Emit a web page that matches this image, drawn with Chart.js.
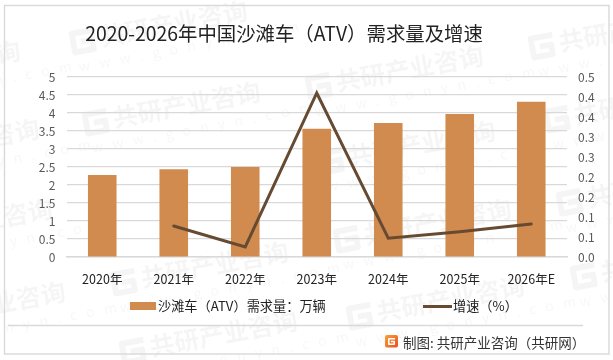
<!DOCTYPE html>
<html><head><meta charset="utf-8">
<script src="https://cdn.jsdelivr.net/npm/chart.js@4"></script>
<style>html,body{margin:0;padding:0;background:#fff}canvas{display:block}</style>
</head><body><canvas id="c" width="613" height="360"></canvas>
<script>
const categories = ['2020年','2021年','2022年','2023年','2024年','2025年','2026年E'];
const demand = [2.28,2.44,2.5,3.56,3.72,3.97,4.31];
const growth = [null,0.0775,0.025,0.41,0.047,0.063,0.0825];
const leftTicks = [0,.5,1,1.5,2,2.5,3,3.5,4,4.5,5];
const rightTicks = [0,.05,.1,.15,.2,.25,.3,.35,.4,.45];
const demandLabel = '沙滩车（ATV）需求量：万辆';
const growthLabel = '增速（%）';
const titleText = '2020-2026年中国沙滩车（ATV）需求量及增速';
const sourceText = '制图: 共研产业咨询（共研网）';
const FONT = '"Noto Sans CJK SC","Noto Sans",sans-serif';
const marks = [[72,52],[85,133],[308,97],[531,57],[-155,92],[-136,170],[320,172],[-123,250],[113,293],[336,250],[349,327],[559,213],[546,130],[573,287],[-110,333],[122,362]];

function logoG(g,x,y,s,lw){ // blocky "G" mark, origin top-left, size s
  g.lineWidth=lw; g.lineJoin='round'; g.beginPath();
  g.moveTo(x+s,y+lw/2); g.lineTo(x+lw/2,y+lw/2); g.lineTo(x+lw/2,y+s-lw/2);
  g.lineTo(x+s-lw/2,y+s-lw/2); g.lineTo(x+s-lw/2,y+s*0.5); g.lineTo(x+s*0.42,y+s*0.5);
  g.stroke();
}
const backdrop = {
  id:'backdrop',
  beforeDraw(ch){
    const g = ch.ctx;
    g.save();
    g.fillStyle = '#fff'; g.fillRect(0,0,613,360);
    g.textAlign='left'; g.textBaseline='alphabetic';
    for (const [x,y] of marks){
      g.save(); g.translate(x,y); g.rotate(-10.5*Math.PI/180);
      g.strokeStyle='rgba(0,0,0,0.04)';
      logoG(g,0,-21,25,6);
      g.fillStyle='rgba(0,0,0,0.04)';
      g.font='bold 25px '+FONT;
      g.fillText('共研产业咨询',30,0);
      g.fillStyle='rgba(0,0,0,0.035)';
      g.font='14px '+FONT;
      g.letterSpacing='9.5px';
      g.fillText('www.gonyn.com',4,21);
      g.letterSpacing='0px';
      g.restore();
    }
    g.strokeStyle='#d9d9d9'; g.lineWidth=1.4;
    g.strokeRect(4.5,5.5,604.5,348.5);
    g.beginPath(); g.moveTo(8,325.5); g.lineTo(583,325.5); g.stroke();
    g.restore();
    ch.titleBlock.right = ch.titleBlock.left + 568;
  },
  afterDraw(ch){
    const g = ch.ctx;
    g.save();
    // source logo and text
    const lg = g.createLinearGradient(385,335,398,347);
    lg.addColorStop(0,'#f9a13a'); lg.addColorStop(1,'#ee4f1e');
    g.fillStyle=lg; g.beginPath(); g.roundRect(385,335,13,12.5,2); g.fill();
    g.strokeStyle='#fff'; logoG(g,388,338,7,1.6);
    g.fillStyle='#333'; g.font='13.5px '+FONT; g.textAlign='left'; g.textBaseline='middle';
    g.fillText(sourceText,403,343);
    // legend, from the datasets
    const [line,bar] = ch.data.datasets;
    g.fillStyle=bar.backgroundColor; g.fillRect(130,302,26,8);
    g.strokeStyle=line.borderColor; g.lineWidth=3; g.beginPath(); g.moveTo(423,306.5); g.lineTo(452,306.5); g.stroke();
    g.fillStyle='#222'; g.font='13.2px '+FONT;
    g.fillText(bar.label,158,306);
    g.fillText(line.label,453,306);
    g.restore();
  }
};

new Chart(document.getElementById('c'),{
  data:{labels:categories,datasets:[
    {type:'line',label:growthLabel,data:growth,yAxisID:'y1',borderColor:'#674a32',backgroundColor:'#674a32',borderWidth:3,pointRadius:0,tension:0,borderJoinStyle:'miter',borderCapStyle:'round',order:1},
    {type:'bar',label:demandLabel,data:demand,yAxisID:'y',backgroundColor:'#d18b4f',barPercentage:0.4,categoryPercentage:1,order:2}
  ]},
  options:{
    responsive:false,animation:false,
    layout:{padding:{left:0,right:0,top:0,bottom:58}},
    plugins:{
      title:{display:true,text:titleText,color:'#222',font:{family:FONT,size:19.4,weight:'normal'},padding:{top:22,bottom:31.7}},
      tooltip:{enabled:false},
      legend:{display:false}
    },
    scales:{
      x:{afterFit(s){s.height=45},grid:{display:false},border:{color:'#d9d9d9',width:1.4},ticks:{color:'#222',font:{family:FONT,size:12.5},padding:7,maxRotation:0}},
      y:{position:'left',min:0,max:5,afterFit(s){s.width=66.5},grid:{color:'#d9d9d9',lineWidth:1.2,drawTicks:false},border:{display:false},
        afterBuildTicks(s){s.ticks=leftTicks.map(v=>({value:v}))},
        ticks:{color:'#595959',font:{family:FONT,size:12},padding:11,autoSkip:false,callback:v=>String(v)}},
      y1:{position:'right',min:0,max:0.45,afterFit(s){s.width=46},grid:{display:false,drawTicks:false},border:{display:false},
        afterBuildTicks(s){s.ticks=rightTicks.map(v=>({value:v}))},
        ticks:{color:'#595959',font:{family:FONT,size:12},padding:11,autoSkip:false,callback:v=>(Math.round(v*10+1e-6)/10).toFixed(1)}}
    }
  },
  plugins:[backdrop]
});
</script></body></html>
